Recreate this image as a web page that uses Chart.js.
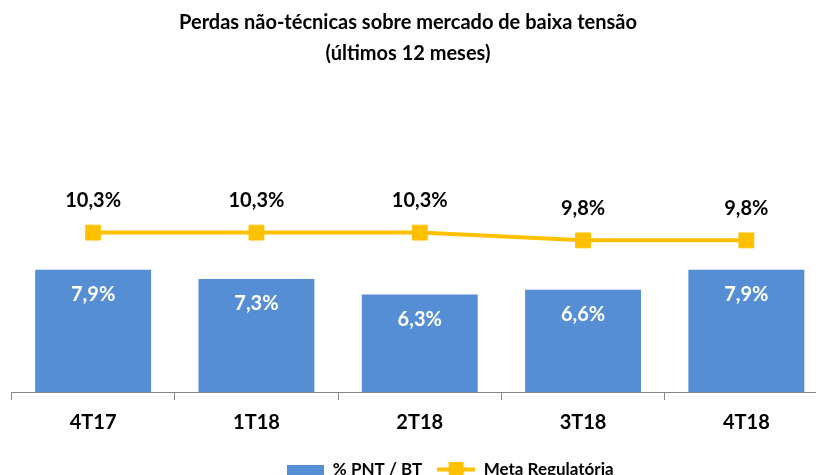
<!DOCTYPE html>
<html>
<head>
<meta charset="utf-8">
<script src="https://cdn.jsdelivr.net/npm/chart.js@4.4.1/dist/chart.umd.min.js"></script>
<style>
  html, body { margin: 0; padding: 0; background: #fff; overflow: hidden; }
</style>
</head>
<body>
<canvas id="grafico" width="889" height="496"></canvas>
<script>
// dados
const categorias = ['4T17', '1T18', '2T18', '3T18', '4T18'];
const pntBT = [7.9, 7.3, 6.3, 6.6, 7.9];          // % PNT / BT
const metaRegulatoria = [10.3, 10.3, 10.3, 9.8, 9.8];
const nomesSeries = ['% PNT / BT', 'Meta Regulatória'];
const titulo = ['Perdas não-técnicas sobre mercado de baixa tensão', '(últimos 12 meses)'];

const azul = '#558ED5';
const amarelo = '#FFC000';
const cinza = '#868686';
const fonte = 'Lato, "DejaVu Sans", sans-serif';

function fmt(v) {
    return v.toFixed(1).replace('.', ',') + '%';
}

// ícones da legenda
function iconeBarra() {
    const c = document.createElement('canvas');
    c.width = 37; c.height = 10;
    const g = c.getContext('2d');
    g.fillStyle = azul;
    g.fillRect(0, 0, 37, 10);
    return c;
}
function iconeLinha() {
    const c = document.createElement('canvas');
    c.width = 38; c.height = 15;
    const g = c.getContext('2d');
    g.fillStyle = amarelo;
    g.fillRect(0, 5.5, 38, 4);
    g.fillRect(11.5, 0, 15, 15);
    return c;
}
const icones = [iconeBarra(), iconeLinha()];

// título desenhado à mão (centrado na área visível)
const tituloPlugin = {
    id: 'tituloPlugin',
    afterDraw(chart) {
        const ctx = chart.ctx;
        ctx.save();
        ctx.fillStyle = '#000';
        ctx.font = 'bold 20px ' + fonte;
        ctx.textAlign = 'center';
        ctx.textBaseline = 'middle';
        ctx.fillText(titulo[0], 408, 23);
        ctx.fillText(titulo[1], 408, 54);
        ctx.restore();
    }
};

// rótulos dos valores
const rotulosPlugin = {
    id: 'rotulosPlugin',
    afterDatasetsDraw(chart) {
        const ctx = chart.ctx;
        ctx.save();
        ctx.font = 'bold 20px ' + fonte;
        ctx.textAlign = 'center';
        ctx.textBaseline = 'middle';
        chart.data.datasets.forEach((ds, i) => {
            const meta = chart.getDatasetMeta(i);
            meta.data.forEach((el, j) => {
                if (ds.type === 'line') {
                    ctx.fillStyle = '#000';
                    ctx.fillText(fmt(ds.data[j]), el.x, el.y - 32);
                } else {
                    ctx.fillStyle = '#fff';
                    ctx.fillText(fmt(ds.data[j]), el.x, el.y + 25);
                }
            });
        });
        ctx.restore();
    }
};

const ctx = document.getElementById('grafico').getContext('2d');
const chart = new Chart(ctx, {
    data: {
        labels: categorias,
        datasets: [{
            type: 'bar',
            label: nomesSeries[0],
            data: pntBT,
            backgroundColor: azul,
            categoryPercentage: 1,
            barPercentage: 0.71
        }, {
            type: 'line',
            label: nomesSeries[1],
            data: metaRegulatoria,
            borderColor: amarelo,
            backgroundColor: amarelo,
            borderWidth: 4,
            pointStyle: 'rect',
            pointRadius: 10.5,
            pointBorderWidth: 1,
            pointBorderColor: amarelo,
            pointBackgroundColor: amarelo,
            tension: 0
        }]
    },
    options: {
        responsive: false,
        animation: false,
        layout: { padding: { left: 11, right: 0, top: 98, bottom: 8 } },
        scales: {
            x: {
                grid: { drawOnChartArea: false, drawTicks: true, tickLength: 8, color: cinza },
                border: { color: cinza, width: 1 },
                ticks: { color: '#000', font: { family: fonte, size: 20, weight: 'bold' }, padding: 11 }
            },
            y: {
                position: 'right',
                min: 0,
                max: 19,
                grid: { display: false },
                border: { display: false },
                ticks: { display: false },
                afterFit(axis) { axis.width = 61; }
            }
        },
        plugins: {
            title: { display: false },
            tooltip: { enabled: false },
            legend: {
                position: 'bottom',
                labels: {
                    usePointStyle: true,
                    pointStyleWidth: 38,
                    color: '#000',
                    padding: 15,
                    font: { family: fonte, size: 17, weight: 'bold' },
                    generateLabels(chart) {
                        const itens = Chart.defaults.plugins.legend.labels.generateLabels(chart);
                        itens.forEach((it, i) => { it.pointStyle = icones[i]; });
                        return itens;
                    }
                }
            }
        }
    },
    plugins: [tituloPlugin, rotulosPlugin]
});
</script>
</body>
</html>
